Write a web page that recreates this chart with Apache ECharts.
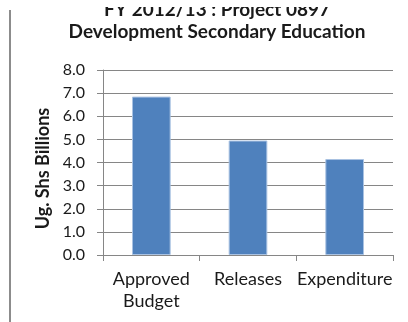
<!DOCTYPE html>
<html>
<head>
<meta charset="utf-8">
<script src="https://cdn.jsdelivr.net/npm/echarts@6/dist/echarts.min.js"></script>
<style>
  html, body { margin: 0; padding: 0; background: #fff; }
  #chart { width: 408px; height: 322px; }
</style>
</head>
<body>
<div id="chart"></div>
<script>
// Project 0897 budget performance, FY 2012/13 (Ug. Shs billions)
var categories = ['Approved\nBudget', 'Releases', 'Expenditure'];
var amounts = [6.85, 4.95, 4.15];
var yTicks = { min: 0, max: 8, interval: 1 };

var titleLines = ['FY 2012/13 : Project 0897', 'Development Secondary Education'];
var yAxisTitle = 'Ug. Shs Billions';

var FONT = 'Lato';

var chart = echarts.init(document.getElementById('chart'), null, { renderer: 'canvas' });

chart.setOption({
  animation: false,
  backgroundColor: '#ffffff',
  title: [
    {
      text: titleLines[0],
      left: 212,
      top: -5,
      textAlign: 'center',
      textStyle: { fontFamily: FONT, fontSize: 19, fontWeight: 'bold', color: '#1a1a1a' }
    },
    {
      text: titleLines[1],
      left: 212,
      top: 17,
      textAlign: 'center',
      textStyle: { fontFamily: FONT, fontSize: 19, fontWeight: 'bold', color: '#1a1a1a' }
    }
  ],
  graphic: [
    // the upper part of the first title line is cut off by the frame edge
    {
      type: 'rect',
      z: 100,
      shape: { x: 0, y: 0, width: 408, height: 7 },
      style: { fill: '#ffffff' }
    },
    // frame border on the left
    {
      type: 'line',
      z: 101,
      shape: { x1: 10, y1: 10, x2: 10, y2: 322 },
      style: { stroke: '#8c8c8c', lineWidth: 2 }
    }
  ],
  grid: { left: 103, right: 15, top: 70, bottom: 67, containLabel: false },
  xAxis: {
    type: 'category',
    data: categories,
    axisLine: { show: true, lineStyle: { color: '#868686', width: 1 } },
    axisTick: { show: true, alignWithLabel: false, length: 6, lineStyle: { color: '#868686' } },
    axisLabel: {
      fontFamily: FONT, fontSize: 18, color: '#1a1a1a',
      margin: 13, lineHeight: 22, interval: 0
    },
    splitLine: { show: false }
  },
  yAxis: {
    type: 'value',
    min: yTicks.min,
    max: yTicks.max,
    interval: yTicks.interval,
    name: yAxisTitle,
    nameLocation: 'middle',
    nameGap: 49,
    nameRotate: 90,
    nameTextStyle: {
      fontFamily: FONT, fontSize: 18, fontWeight: 'bold', color: '#1a1a1a',
      padding: [0, 12, 0, 0]
    },
    axisLine: { show: true, lineStyle: { color: '#868686', width: 1 } },
    axisTick: { show: true, length: 6, lineStyle: { color: '#868686' } },
    axisLabel: {
      fontFamily: FONT, fontSize: 16, color: '#1a1a1a', margin: 18,
      formatter: function (v) { return v.toFixed(1); }
    },
    splitLine: { show: true, lineStyle: { color: '#868686', width: 1 } }
  },
  series: [
    {
      type: 'bar',
      data: amounts,
      barWidth: '40%',
      itemStyle: { color: '#4f81bd', borderColor: '#a9c2e2', borderWidth: 1 }
    }
  ]
});
</script>
</body>
</html>
